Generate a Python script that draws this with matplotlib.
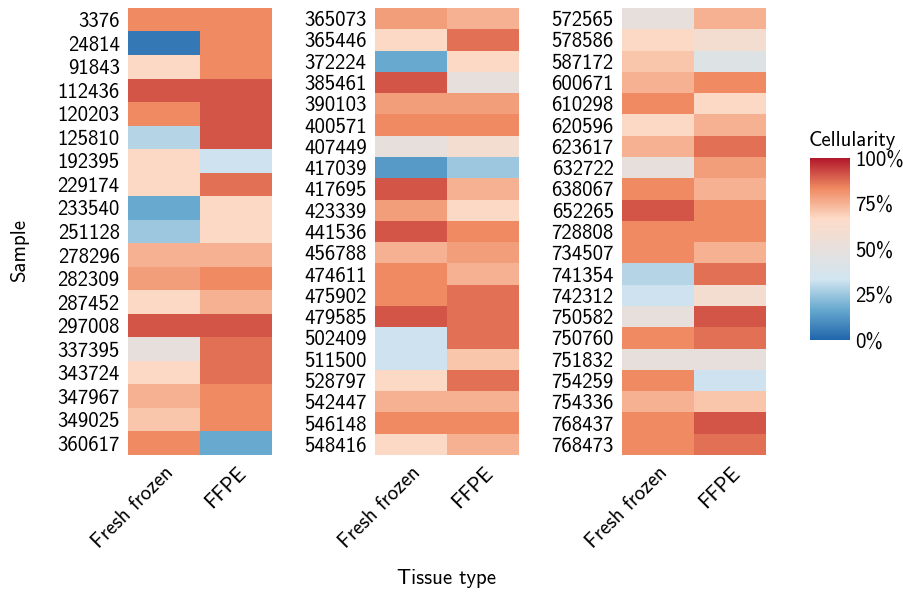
import numpy as np
import matplotlib
matplotlib.use('Agg')
import matplotlib.pyplot as plt
from matplotlib.colors import LinearSegmentedColormap

plt.rcParams['font.family'] = ['cmss10', 'DejaVu Sans']
plt.rcParams['axes.formatter.use_mathtext'] = True

# Proben und Zellularitaet (%) je Gewebetyp
tissue = ['Fresh frozen', 'FFPE']

samples1 = ['3376', '24814', '91843', '112436', '120203', '125810', '192395',
            '229174', '233540', '251128', '278296', '282309', '287452', '297008',
            '337395', '343724', '347967', '349025', '360617']
ff1 = [83, 5, 67, 91, 83, 29, 67, 67, 17, 25, 75, 79, 67, 91, 50, 67, 75, 71, 83]
ffpe1 = [83, 83, 83, 91, 91, 91, 33, 87, 67, 67, 75, 83, 75, 91, 87, 87, 83, 83, 17]

samples2 = ['365073', '365446', '372224', '385461', '390103', '400571', '407449',
            '417039', '417695', '423339', '441536', '456788', '474611', '475902',
            '479585', '502409', '511500', '528797', '542447', '546148', '548416']
ff2 = [79, 67, 17, 91, 79, 83, 50, 13, 91, 79, 91, 75, 83, 83, 91, 33, 33, 67, 75, 83, 67]
ffpe2 = [75, 87, 67, 50, 79, 83, 59, 25, 75, 67, 83, 79, 75, 87, 87, 87, 71, 87, 75, 83, 75]

samples3 = ['572565', '578586', '587172', '600671', '610298', '620596', '623617',
            '632722', '638067', '652265', '728808', '734507', '741354', '742312',
            '750582', '750760', '751832', '754259', '754336', '768437', '768473']
ff3 = [50, 67, 71, 75, 83, 67, 75, 50, 83, 91, 83, 83, 29, 33, 50, 83, 50, 83, 75, 83, 83]
ffpe3 = [75, 59, 43, 83, 67, 75, 87, 79, 75, 83, 83, 75, 87, 59, 91, 87, 50, 33, 71, 91, 87]

cbar_ticks = [0, 25, 50, 75, 100]

# Farbskala (blau - grau - rot)
cmap = LinearSegmentedColormap.from_list(
    'cell', ['#2166ac', '#67a9cf', '#d1e5f0', '#e7e0dd', '#fddbc7', '#ef8a62', '#b2182b'])

W, H = 904, 592
fig = plt.figure(figsize=(W / 100, H / 100), dpi=100)

panels = [(samples1, ff1, ffpe1, 128), (samples2, ff2, ffpe2, 375), (samples3, ff3, ffpe3, 622)]
for names, ff, ffpe, x0 in panels:
    ax = fig.add_axes([x0 / W, (H - 455) / H, 144 / W, 447 / H])
    data = np.column_stack([ff, ffpe])
    im = ax.imshow(data, cmap=cmap, vmin=0, vmax=100, aspect='auto', interpolation='nearest')
    ax.set_yticks(range(len(names)))
    ax.set_yticklabels(names, fontsize=15)
    ax.set_xticks(range(2))
    ax.set_xticklabels(tissue, fontsize=15, rotation=45, ha='right', rotation_mode='anchor')
    ax.tick_params(length=0, pad=6)
    for s in ax.spines.values():
        s.set_visible(False)

fig.text(20 / W, 1 - 250 / H, 'Sample', rotation=90, fontsize=15, ha='center', va='center')
fig.text(447 / W, 1 - 578 / H, 'Tissue type', fontsize=15, ha='center', va='center')

cax = fig.add_axes([810 / W, (H - 340) / H, 40 / W, 182 / H])
cb = fig.colorbar(im, cax=cax, ticks=cbar_ticks)
cb.set_ticklabels([f'{t}%' for t in cbar_ticks])
cb.outline.set_visible(False)
cax.tick_params(length=0, labelsize=15, pad=4)
fig.text(852 / W, 1 - 140 / H, 'Cellularity', fontsize=15, ha='center', va='center')

fig.savefig('out.png', dpi=100)
